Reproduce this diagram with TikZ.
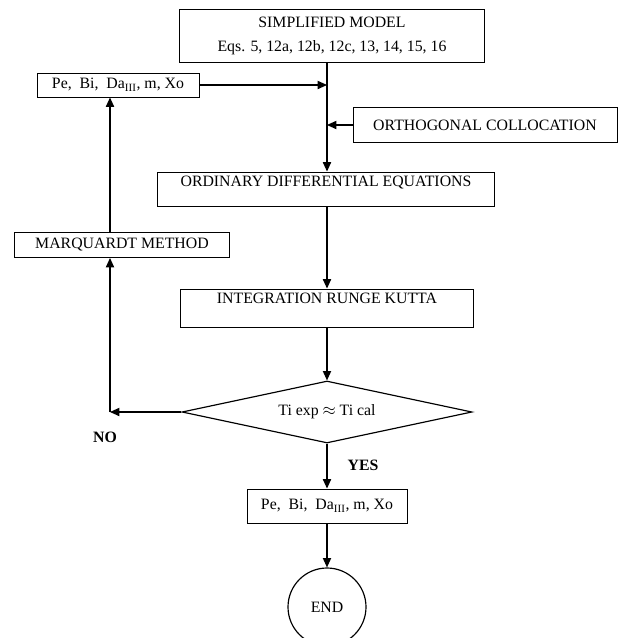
\documentclass[tikz,border=0pt]{standalone}
\usepackage{fontspec}
\setmainfont{Liberation Serif}
\usetikzlibrary{positioning,arrows.meta,shapes.geometric}

\begin{document}
\begin{tikzpicture}[x=0.03cm,y=-0.03cm,
    every node/.style={font=\fontsize{13.5}{16}\selectfont},
    box/.style={draw,line width=0.8pt,inner sep=2pt},
    flow/.style={line width=1pt,-{Triangle[length=8pt,width=7pt]}},
    lab/.style={font=\fontsize{13.5}{16}\selectfont\bfseries}]
  \useasboundingbox (0,0) rectangle (630,638);
  % boxes of the flow chart
  \node[box,minimum width=9.15cm,minimum height=1.59cm,align=center] (model) at (332,36)
    {SIMPLIFIED MODEL\\[5pt]Eqs. 5, 12a, 12b, 12c, 13, 14, 15, 16};
  \node[box,minimum width=4.86cm,minimum height=0.72cm] (params) at (118,85)
    {Pe,\ \ Bi,\ \ Da$_{\mathrm{III}}$, m, Xo};
  \node[box,minimum width=7.92cm,minimum height=1.05cm] (colloc) at (485,125)
    {ORTHOGONAL COLLOCATION};
  \node[box,minimum width=10.1cm,minimum height=1.02cm,text depth=14pt] (ode) at (326,189)
    {ORDINARY DIFFERENTIAL EQUATIONS};
  \node[box,minimum width=6.45cm,minimum height=0.75cm] (marq) at (122,245)
    {MARQUARDT METHOD};
  \node[box,minimum width=8.8cm,minimum height=1.14cm,text depth=16pt] (rk) at (327,308)
    {INTEGRATION RUNGE KUTTA};
  \node[draw,diamond,aspect=4.7,line width=1pt,inner sep=0pt,minimum width=8.7cm,minimum height=1.86cm] (test) at (327,412)
    {Ti exp $\approx$ Ti cal};
  \node[box,minimum width=4.8cm,minimum height=1.02cm] (result) at (327,506)
    {Pe,\ \ Bi,\ \ Da$_{\mathrm{III}}$, m, Xo};
  \node[draw,circle,line width=1pt,minimum size=2.34cm] (stop) at (327,607) {END};
  % main line and turning point
  \coordinate (main) at (327,0);
  \coordinate (left) at (110,0);
  \coordinate (j1) at (params.east -| main);
  \coordinate (j2) at (colloc.west -| main);
  \coordinate (turn) at (test.west -| left);
  % connectors
  \draw[flow] (model.south -| main) -- (ode.north -| main);
  \draw[flow] (params.east) -- (j1);
  \draw[flow] (colloc.west) -- (j2);
  \draw[flow] (ode.south -| main) -- (rk.north -| main);
  \draw[flow] (rk.south -| main) -- (test.north);
  \draw[flow] (test.south) -- (result.north);
  \draw[flow] (result.south) -- (stop.north);
  \draw[flow] (test.west) -- (turn);
  \draw[flow] (turn) -- (marq.south -| turn);
  \draw[flow] (marq.north -| turn) -- (params.south -| turn);
  \node[lab] (no) at (105,437) {NO};
  \node[lab] (yes) at (363,465) {YES};
\end{tikzpicture}
\end{document}
